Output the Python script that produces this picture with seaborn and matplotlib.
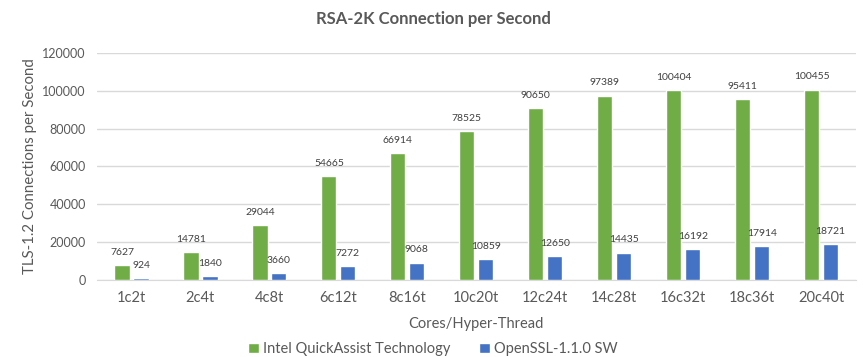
import pandas as pd
import numpy as np
import seaborn as sns
import matplotlib.pyplot as plt

# Data
configs = ['1c2t', '2c4t', '4c8t', '6c12t', '8c16t', '10c20t',
           '12c24t', '14c28t', '16c32t', '18c36t', '20c40t']
qat_values = [7627, 14781, 29044, 54665, 66914, 78525,
              90650, 97389, 100404, 95411, 100455]
sw_values = [924, 1840, 3660, 7272, 9068, 10859,
             12650, 14435, 16192, 17914, 18721]
series_names = ['Intel QuickAssist Technology', 'OpenSSL-1.1.0 SW']
y_ticks = [0, 20000, 40000, 60000, 80000, 100000, 120000]

df = pd.DataFrame({
    'Config': configs * 2,
    'Value': qat_values + sw_values,
    'Series': [series_names[0]] * len(configs) + [series_names[1]] * len(configs),
})

sns.set_style("white")
plt.rcParams['font.family'] = ['Lato', 'DejaVu Sans']
text_grey = '#595959'

fig = plt.figure(figsize=(8.66, 3.57), dpi=100)
ax = fig.add_axes([0.112, 0.216, 0.876, 0.636])

sns.barplot(data=df, x='Config', y='Value', hue='Series', order=configs,
            hue_order=series_names, palette=['#70AD47', '#4472C4'],
            width=0.55, gap=0.2, saturation=1, ax=ax, errorbar=None,
            zorder=3)

# value labels above each bar
for container in ax.containers:
    ax.bar_label(container, fmt='%d', padding=6, fontsize=7.5, color='#404040')

ax.set_ylim(0, 120000)
ax.set_yticks(y_ticks)
ax.set_xlim(-0.5, len(configs) - 0.5)
ax.yaxis.grid(True, color='#D9D9D9', linewidth=1, zorder=0)
ax.set_axisbelow(True)
for side in ['top', 'right', 'left']:
    ax.spines[side].set_visible(False)
ax.spines['bottom'].set_color('#D9D9D9')
ax.tick_params(axis='x', length=0, labelsize=10.5, labelcolor=text_grey, pad=8)
ax.tick_params(axis='y', length=0, labelsize=9, labelcolor=text_grey, pad=8)

ax.set_xlabel('Cores/Hyper-Thread', fontsize=10.5, color=text_grey, labelpad=9)
ax.set_ylabel('TLS-1.2 Connections per Second', fontsize=10.8, color=text_grey, labelpad=4)
fig.suptitle('RSA-2K Connection per Second', x=0.5, y=0.97, fontsize=12,
             fontweight='bold', color=text_grey)

handles, labels = ax.get_legend_handles_labels()
ax.legend_.remove()
fig.legend(handles, labels, loc='lower center', bbox_to_anchor=(0.5, -0.035),
           ncol=2, frameon=False, fontsize=10.5, labelcolor=text_grey,
           handlelength=0.7, handleheight=0.7, handletextpad=0.3, columnspacing=2.0)

fig.savefig('out.png', dpi=100)
